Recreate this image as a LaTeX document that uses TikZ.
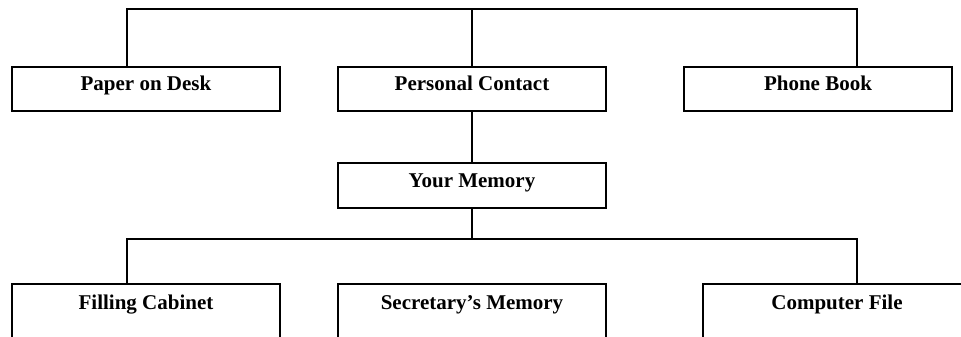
\documentclass[tikz,border=0pt]{standalone}
\usepackage{fontspec}
\setmainfont{Liberation Serif}
\begin{document}
\begin{tikzpicture}[x=1pt,y=-1pt,
  link/.style={line width=1.8pt},
  box/.style={draw, line width=1.8pt, inner sep=0pt, minimum width=268pt,
    anchor=north, font=\fontsize{21}{25}\selectfont\bfseries,
    text height=24pt, text depth=20pt},
  openbox/.style={box, text height=26pt, text depth=44pt}]
\useasboundingbox (0,0) rectangle (961,337);
\clip (0,0) rectangle (961,337);

% upper row
\node[box] (pd) at (146,66) {Paper on Desk};
\node[box] (pc) at (472,66) {Personal Contact};
\node[box] (pb) at (818,66) {Phone Book};

% middle
\node[box, text height=25pt, text depth=20pt] (ym) at (472,162) {Your Memory};

% lower row (runs past the lower edge)
\node[openbox] (fc) at (146,283) {Filling Cabinet};
\node[openbox] (sm) at (472,283) {Secretary’s Memory};
\node[openbox] (cf) at (837,283) {Computer File};

% bar above the upper row
\coordinate (tl) at (127,9);
\coordinate (tr) at (857,9);
\draw[link] (pd.north -| tl) -- (tl) -- (tr) -- (pb.north -| tr);
\draw[link] (pc.north) -- (pc.north |- tl);

% link to the middle box
\draw[link] (pc.south) -- (ym.north);

% bar above the lower row
\coordinate (bl) at (127,239);
\coordinate (br) at (857,239);
\draw[link] (fc.north -| bl) -- (bl) -- (br) -- (cf.north -| br);
\draw[link] (ym.south) -- (ym.south |- bl);
\end{tikzpicture}
\end{document}
